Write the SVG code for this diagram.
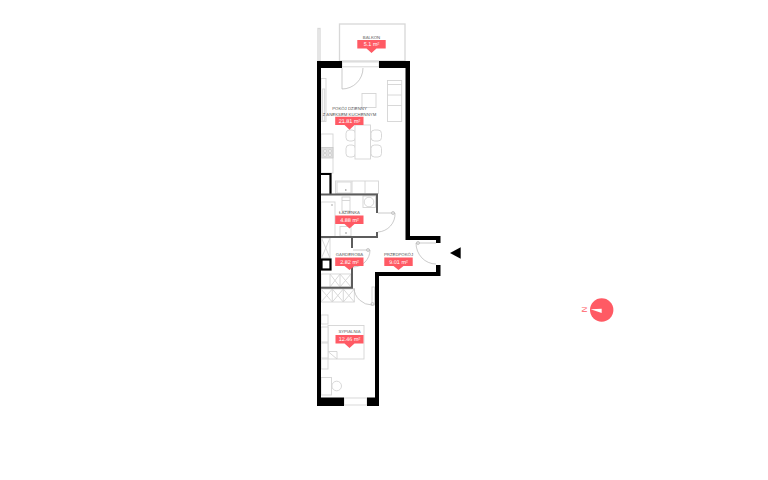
<svg xmlns="http://www.w3.org/2000/svg" width="768" height="480" viewBox="0 0 768 480">
<defs><style>
text{text-rendering:geometricPrecision}
.w{fill:#000}
.g{fill:#5c5c5c}
.f{fill:#fff;stroke:#d4d4d4;stroke-width:.9}
.l{fill:none;stroke:#d4d4d4;stroke-width:.9}
.o{fill:none;stroke:#d8d8d8;stroke-width:1.3}
.d{fill:none;stroke:#b4b4b4;stroke-width:.7}
.b{fill:none;stroke:#000;stroke-width:2.2}
.t{font-family:"Liberation Sans",Arial,sans-serif;font-size:4.3px;fill:#555;text-anchor:middle}
.a{font-family:"Liberation Sans",Arial,sans-serif;font-size:5.500px;fill:#fff;text-anchor:middle}
.r{fill:#ff5a64}
</style></defs>
<rect width="768" height="480" fill="#fff"/>
<g id="furniture">
<rect class="o" x="339.500" y="24" width="65.500" height="37"/>
<rect class="o" x="318" y="28.500" width="2" height="32.500"/>
<rect class="f" x="342" y="62" width="37" height="4.800"/>
<rect class="f" x="344" y="398" width="23" height="7"/>
<rect class="f" x="387.500" y="80.500" width="14.200" height="41"/>
<path class="l" d="M387.500 84.500H401.700M387.500 95H401.700M387.500 105.500H401.700"/>
<rect class="f" x="362" y="93.500" width="14" height="14"/>
<rect class="f" x="321" y="78.500" width="5" height="43"/>
<rect class="l" x="322.700" y="89" width="2" height="32"/>
<rect class="f" x="346" y="130" width="9.500" height="11" rx="3.500"/>
<rect class="f" x="346" y="145" width="9.500" height="12" rx="3.500"/>
<rect class="f" x="371" y="130" width="10.500" height="11" rx="3.500"/>
<rect class="f" x="371" y="145" width="10.500" height="12" rx="3.500"/>
<rect class="f" x="355" y="125" width="15.500" height="34"/>
<rect class="f" x="321" y="134" width="12" height="39"/>
<rect x="321.500" y="147.500" width="11.500" height="10.500" fill="#dedede" stroke="#c8c8c8" stroke-width=".8"/>
<circle cx="325" cy="151" r="1.500" fill="#f4f4f4" stroke="#bbb" stroke-width=".5"/><circle cx="330" cy="151" r="1.500" fill="#f4f4f4" stroke="#bbb" stroke-width=".5"/><circle cx="325" cy="155" r="1.500" fill="#f4f4f4" stroke="#bbb" stroke-width=".5"/><circle cx="330" cy="155" r="1.500" fill="#f4f4f4" stroke="#bbb" stroke-width=".5"/>
<rect class="f" x="335.500" y="181" width="43" height="12.500"/>
<path class="l" d="M352 181V193.500M365 181V193.500"/>
<rect class="l" x="337" y="182" width="14" height="11"/>
<circle cx="345.800" cy="190" r=".8" fill="#888"/>
<rect class="f" x="342" y="197" width="8" height="14"/>
<path class="l" d="M342 200.500H350"/>
<rect class="f" x="363" y="196" width="12.500" height="11.500"/>
<circle class="l" cx="369" cy="202" r="4.800"/>
<rect class="f" x="321" y="202" width="14" height="34.500"/>
<circle cx="332" cy="205" r=".7" fill="#888"/>
<rect class="f" x="340" y="226.500" width="11" height="9.500"/>
<circle cx="346" cy="233" r=".8" fill="#888"/>
<rect class="f" x="321.500" y="238" width="8.500" height="20"/>
<path class="l" d="M321.500 238L330 258M330 238L321.500 258"/>
<rect class="f" x="321" y="274" width="30" height="13"/>
<path class="l" d="M330 274V287M340 274V287M330 274L340 287M340 274L330 287M340 274L351 287M351 274L340 287"/>
<rect class="f" x="321" y="289" width="33.300" height="13"/>
<path class="l" d="M332.300 289V302M343.300 289V302M321 289L332.300 302M332.300 289L321 302M332.300 289L343.300 302M343.300 289L332.300 302M343.300 289L354.300 302M354.300 289L343.300 302"/>
<rect class="f" x="372" y="287" width="2.500" height="18"/>
<rect class="f" x="321" y="315" width="7" height="9"/>
<rect class="f" x="328" y="325.500" width="36" height="33.500"/>
<rect class="f" x="321" y="327" width="7" height="15"/>
<rect class="f" x="321" y="343" width="7" height="15"/>
<path class="l" d="M328 351.500H337V359M328 351.500L337 359"/>
<rect class="f" x="321" y="359" width="7" height="10"/>
<rect class="f" x="321" y="377.500" width="10.500" height="17.500"/>
<circle class="l" cx="336.700" cy="386" r="4.800"/>
<path class="d" d="M342 68V89A21 21 0 0 0 363 68"/>
<path class="d" d="M378 213H395A18 18 0 0 1 378 232"/>
<circle class="d" cx="393" cy="213" r="1.500"/>
<path class="d" d="M353 250H370A17 17 0 0 1 353 267"/>
<circle class="d" cx="368" cy="250" r="1.500"/>
<path class="d" d="M354 288A18 18 0 0 0 372 305"/>
<circle class="d" cx="372.500" cy="304" r="1.500"/>
<path class="d" d="M436 243H416A20 21 0 0 0 436 264"/>
<circle class="d" cx="418" cy="243" r="1.500"/>
</g>
<g id="walls">
<path class="w" d="M317 61H342V68H321V397.500H344V406H317Z"/>
<path class="w" d="M379 61H410V236H440.500V243H436V240H405.500V68H379Z"/>
<path class="w" d="M436 265H440.500V276H379V406H367V397.500H375V272H436Z"/>
<path class="b" d="M321 174H330.500V195"/>
<rect class="b" x="321.500" y="259.500" width="9" height="10"/>
<path class="g" d="M321 193.500H378V213H376V195.500H321ZM376 232H378V238H321V236H376ZM351 238H353V248H351ZM351 266H353V288.800H321V286.800H351Z"/>
</g>
<g id="balkon"><text class="t" x="371.500" y="39">BALKON</text><path class="r" d="M357.300 40H385.700V48.400H376.500L371.500 53L366.500 48.400H357.300Z"/><text class="a" x="371.500" y="46.300">5.1 m²</text></g>
<g id="pokoj"><text class="t" x="349.500" y="110">POKÓJ DZIENNY</text><text class="t" x="349.500" y="115.700">Z ANEKSEM KUCHENNYM</text><path class="r" d="M335.200 116.700H363.500V125.100H354.500L349.500 129.700L344.500 125.100H335.200Z"/><text class="a" x="349.500" y="123">21.81 m²</text></g>
<g id="lazienka"><text class="t" x="349.500" y="214">ŁAZIENKA</text><path class="r" d="M335.200 215.500H363.500V223.900H354.500L349.500 228.500L344.500 223.900H335.200Z"/><text class="a" x="349.500" y="221.800">4.88 m²</text></g>
<g id="garderoba"><text class="t" x="349.500" y="256">GARDEROBA</text><path class="r" d="M335.200 257.500H363.500V265.900H354.500L349.500 270L344.500 265.900H335.200Z"/><text class="a" x="349.500" y="263.800">2.82 m²</text></g>
<g id="przedpokoj"><text class="t" x="398.500" y="256">PRZEDPOKÓJ</text><path class="r" d="M384.300 257.500H412.700V265.900H403.500L398.500 270L393.500 265.900H384.300Z"/><text class="a" x="398.500" y="263.800">9.01 m²</text></g>
<g id="sypialnia"><text class="t" x="349.500" y="333.400">SYPIALNIA</text><path class="r" d="M335.500 335H363.500V343.400H354.500L349.500 348L344.500 343.400H335.500Z"/><text class="a" x="349.500" y="341.300">12.46 m²</text></g>
<g id="entry"><path d="M450 253L460.700 247.300V258.700Z" fill="#000"/></g>
<g id="north"><circle class="r" cx="601.700" cy="310" r="11.700"/><path d="M590.700 309.300L601.700 308.800V313Z" fill="#fff"/><text x="585.500" y="309.500" font-family="Liberation Sans, sans-serif" font-size="7.500" fill="#ff5a64" text-anchor="middle" dominant-baseline="middle" transform="rotate(-90 585.500 309.500)">N</text></g>
</svg>
